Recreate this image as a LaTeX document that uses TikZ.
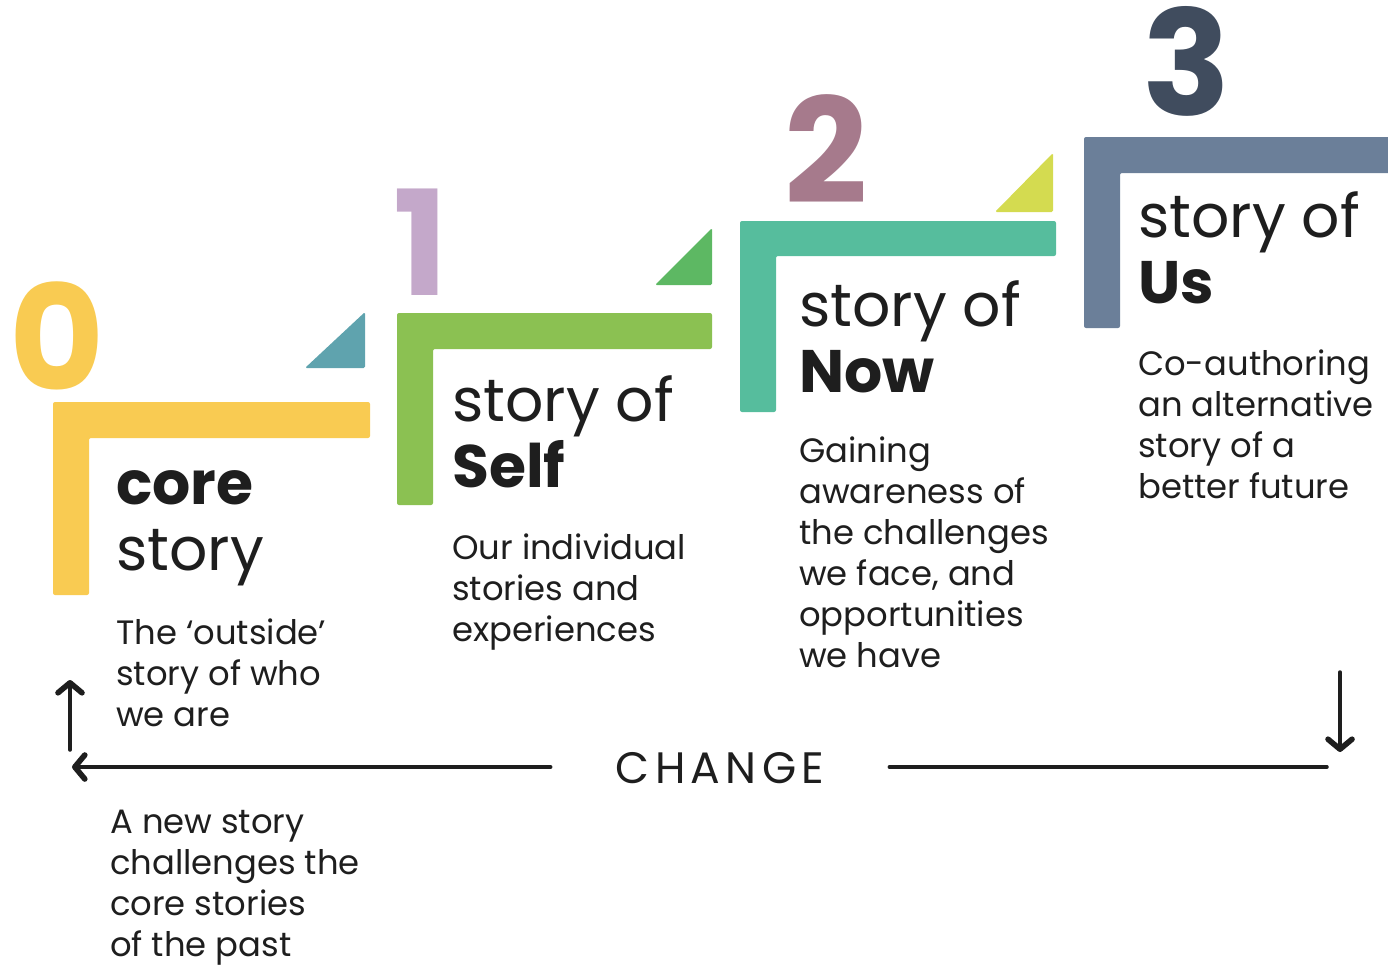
\documentclass[tikz,border=0pt]{standalone}
\usepackage{fontspec}
\setmainfont{Poppins}
\usetikzlibrary{arrows.meta}

\definecolor{stepyellow}{HTML}{F9CB52}
\definecolor{trisea}{HTML}{5FA3AE}
\definecolor{stepgreen}{HTML}{8BC152}
\definecolor{trigreen}{HTML}{5DB863}
\definecolor{numlilac}{HTML}{C4A8CA}
\definecolor{stepteal}{HTML}{56BD9D}
\definecolor{nummauve}{HTML}{A67A8C}
\definecolor{trilime}{HTML}{D4DB50}
\definecolor{stepslate}{HTML}{6B7F99}
\definecolor{numslate}{HTML}{404C5E}
\definecolor{ink}{HTML}{1E1E1E}

\tikzset{
  stepbar/.style={rounded corners=2pt},
  num/.style={anchor=base, inner sep=0pt, font=\fontsize{146}{146}\selectfont\bfseries},
  title/.style={anchor=base west, inner sep=0pt, align=left, text=ink,
    font=\fontsize{60}{66}\selectfont},
  desc/.style={anchor=base west, inner sep=0pt, align=left, text=ink,
    font=\fontsize{33.8}{41}\selectfont},
  flow/.style={line width=3.5pt, draw=ink, line cap=round}
}

\begin{document}
\begin{tikzpicture}[x=1pt, y=-1pt,
    >={Straight Barb[length=10pt, width=24pt, line width=0pt 1.6, line join=round, line cap=round]}]
  \useasboundingbox (0,0) rectangle (1388,966);

  % step 0
  \fill[stepyellow, stepbar] (53,402) -- (370,402) -- (370,438) -- (89,438)
    -- (89,595) -- (53,595) -- cycle;
  \fill[trisea, rounded corners=1.5pt] (305,368) -- (365,368) -- (365,312) -- cycle;
  \node[num, text=stepyellow] (zero) at (57,390) {0};
  \node[title] (core) at (116,570) {\textbf{core}\\story};
  \node[desc] (coretext) at (116,726) {The ‘outside’\\story of who\\we are};

  % step 1
  \fill[stepgreen, stepbar] (397,313) -- (712,313) -- (712,349) -- (433,349)
    -- (433,505) -- (397,505) -- cycle;
  \fill[trigreen, rounded corners=1.5pt] (655,285) -- (712,285) -- (712,228) -- cycle;
  \node[num, text=numlilac] (one) at (421,295) {1};
  \node[title] (self) at (452,487) {story of\\\textbf{Self}};
  \node[desc] (selftext) at (452,641) {Our individual\\stories and\\experiences};

  % step 2
  \fill[stepteal, stepbar] (740,221) -- (1056,221) -- (1056,256) -- (776,256)
    -- (776,412) -- (740,412) -- cycle;
  \fill[trilime, rounded corners=1.5pt] (995,212) -- (1053,212) -- (1053,153) -- cycle;
  \node[num, text=nummauve] (two) at (826,203) {2};
  \node[title] (now) at (799,392) {story of\\\textbf{Now}};
  \node[desc] (nowtext) at (799,667) {Gaining\\awareness of\\the challenges\\we face, and\\opportunities\\we have};

  % step 3
  \fill[stepslate, stepbar] (1084,137) -- (1392,137) -- (1392,173) -- (1120,173)
    -- (1120,328) -- (1084,328) -- cycle;
  \node[num, text=numslate] (three) at (1187,115) {3};
  \node[title] (us) at (1138,303) {story of\\\textbf{Us}};
  \node[desc] (ustext) at (1138,498) {Co-authoring\\an alternative\\story of a\\better future};

  % change loop
  \node[text=ink, inner xsep=65pt, inner ysep=0pt,
    font=\fontsize{44}{44}\selectfont\addfontfeatures{LetterSpace=12}] (change) at (720,768) {CHANGE};
  \coordinate (leftend) at (72,767);
  \coordinate (rightend) at (1327,767);
  \coordinate (upfoot) at (70,750);
  \coordinate (uptip) at (70,680);
  \coordinate (downtop) at (1340,672);
  \coordinate (downtip) at (1340,752);
  \draw[flow, ->] (change.west |- leftend) -- (leftend);
  \draw[flow] (change.east |- rightend) -- (rightend);
  \draw[flow, ->] (upfoot) -- (uptip);
  \draw[flow, ->] (downtop) -- (downtip);
  \node[desc] (newtext) at (110,956) {A new story\\challenges the\\core stories\\of the past};
\end{tikzpicture}
\end{document}
